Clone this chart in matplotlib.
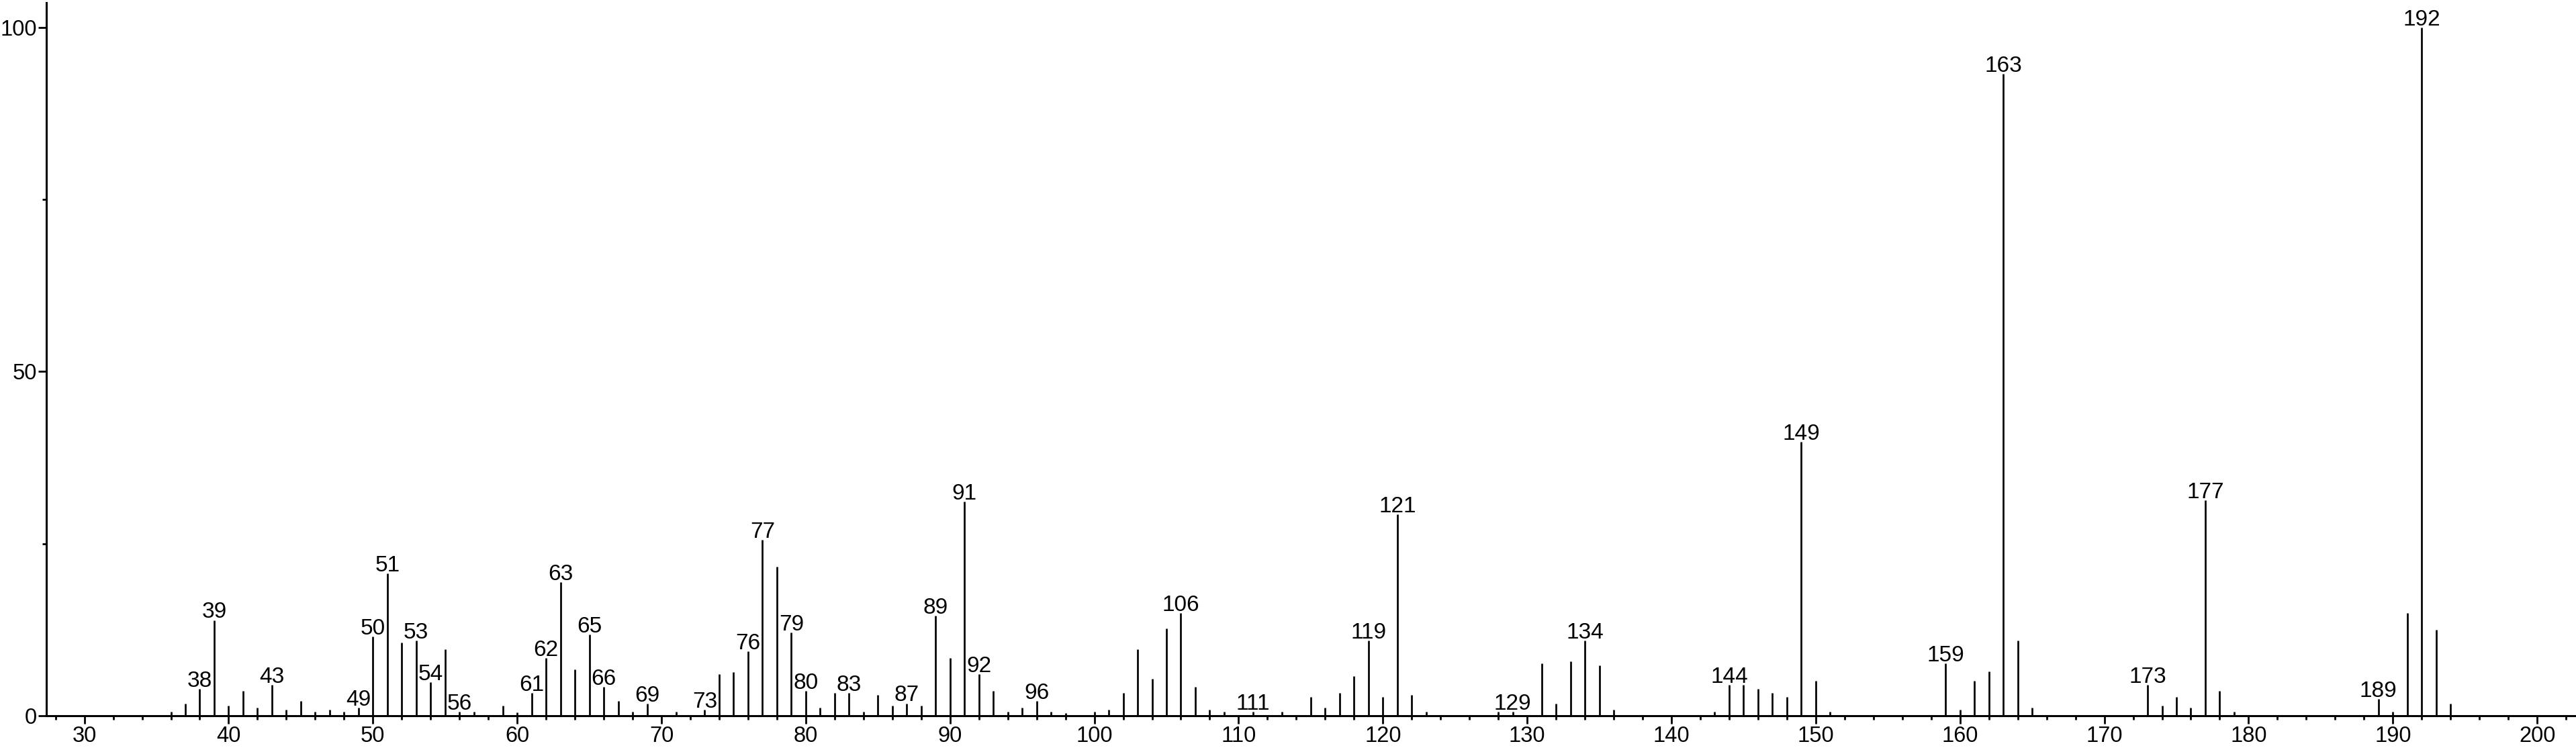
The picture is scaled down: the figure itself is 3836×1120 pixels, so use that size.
import matplotlib.pyplot as plt
from matplotlib.ticker import MultipleLocator

plt.rcParams['font.family'] = ['Liberation Sans', 'DejaVu Sans']

# ---- DATI SPETTRO (m/z, intensita relativa) ----
mz = [36, 37, 38, 39, 40, 41, 42, 43, 44, 45, 46, 47, 48, 49, 50, 51, 52, 53, 54, 55,
      56, 57, 59, 60, 61, 62, 63, 64, 65, 66, 67, 68, 69, 71, 73, 74, 75, 76, 77, 78,
      79, 80, 81, 82, 83, 84, 85, 86, 87, 88, 89, 90, 91, 92, 93, 94, 95, 96, 97, 98,
      100, 101, 102, 103, 104, 105, 106, 107, 108, 109, 111, 113, 115, 116, 117, 118,
      119, 120, 121, 122, 123, 128, 129, 131, 132, 133, 134, 135, 136, 143, 144, 145,
      146, 147, 148, 149, 150, 151, 159, 160, 161, 162, 163, 164, 165, 173, 174, 175,
      176, 177, 178, 179, 189, 190, 191, 192, 193, 194]
intensity = [0.6, 1.8, 3.9, 13.9, 1.5, 3.6, 1.2, 4.5, 0.9, 2.1, 0.6, 0.9, 0.6, 1.2, 11.5, 20.7, 10.6, 10.9, 4.9, 9.7,
             0.55, 0.55, 1.5, 0.5, 3.3, 8.4, 19.4, 6.7, 11.8, 4.2, 2.1, 0.55, 1.75, 0.55, 0.85, 6.0, 6.3, 9.4, 25.6, 21.7,
             12.1, 3.6, 1.2, 3.3, 3.3, 0.55, 3.0, 1.45, 1.8, 1.45, 14.5, 8.4, 31.1, 6.0, 3.6, 0.55, 1.2, 2.1, 0.55, 0.4,
             0.55, 0.9, 3.3, 9.7, 5.4, 12.7, 14.9, 4.2, 0.9, 0.55, 0.55, 0.55, 2.7, 1.2, 3.3, 5.8,
             10.9, 2.7, 29.3, 3.0, 0.6, 0.6, 0.6, 7.6, 1.8, 7.9, 10.9, 7.3, 0.9, 0.6, 4.5, 4.5,
             3.9, 3.3, 2.7, 39.8, 5.1, 0.6, 7.6, 0.9, 5.1, 6.4, 93.3, 10.9, 1.2, 4.5, 1.5, 2.7,
             1.2, 31.3, 3.6, 0.6, 2.4, 0.6, 14.9, 100.0, 12.5, 1.8]

labelled = [38, 39, 43, 49, 50, 51, 53, 54, 56, 61, 62, 63, 65, 66, 69, 73, 76, 77, 79, 80,
            83, 87, 89, 91, 92, 96, 106, 111, 119, 121, 129, 134, 144, 149, 159, 163, 173,
            177, 189, 192]

x_ticks = [30, 40, 50, 60, 70, 80, 90, 100, 110, 120, 130, 140, 150, 160, 170, 180, 190, 200]
y_ticks = [0, 50, 100]

# ---- PLOT ----
W, H = 3836, 1120
fig = plt.figure(figsize=(W / 100, H / 100), dpi=100)
ax = fig.add_axes([69.3 / W, 54 / H, (3834 - 69.3) / W, (1066 - 4) / H])

ax.vlines(mz, 0, intensity, color='black', linewidth=1.95)

peak = dict(zip(mz, intensity))
for m in labelled:
    ax.annotate(str(m), (m, peak[m]), xytext=(0, 2.2), textcoords='offset points',
                ha='center', va='baseline', fontsize=24, color='black')

ax.set_xlim(27.38, 202.6)
ax.set_ylim(0, 103.6)
ax.set_xticks(x_ticks)
ax.set_yticks(y_ticks)
ax.xaxis.set_minor_locator(MultipleLocator(2))
ax.yaxis.set_minor_locator(MultipleLocator(25))

for s in ('top', 'right'):
    ax.spines[s].set_visible(False)
for s in ('left', 'bottom'):
    ax.spines[s].set_linewidth(2.2)

ax.tick_params(axis='both', which='major', length=8.6, width=2.0, labelsize=23.5, direction='out')
ax.tick_params(axis='both', which='minor', length=4.3, width=2.0, direction='out')
ax.tick_params(axis='x', which='major', pad=2.5)
ax.tick_params(axis='y', which='major', pad=1.5)

fig.savefig('out.png', dpi=100)
